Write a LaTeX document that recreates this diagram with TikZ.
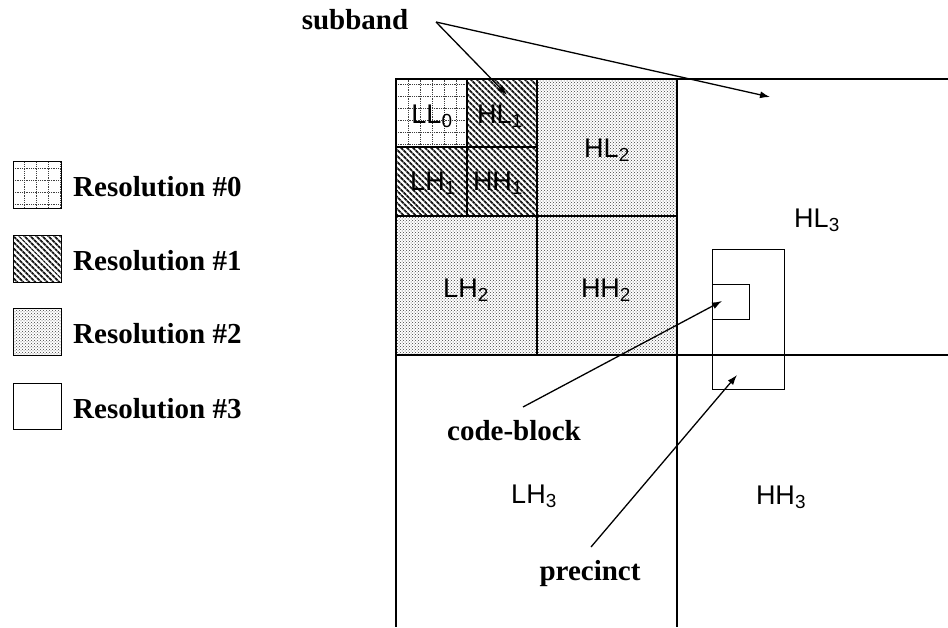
\documentclass[tikz,border=0pt]{standalone}
\usepackage{fontspec}
\setmainfont{Liberation Serif}
\newfontfamily\bandfont{Liberation Sans}
\usetikzlibrary{arrows.meta, patterns, patterns.meta}

\begin{document}
\begin{tikzpicture}[x=1pt, y=-1pt,
    bandline/.style={line width=1.2pt},
    gridline/.style={densely dotted, line width=0.8pt, black!75},
    res1fill/.style={pattern={Lines[angle=-45, distance=4pt, line width=2pt]}, pattern color=black!90},
    res2fill/.style={pattern=crosshatch dots, pattern color=black!75},
    band/.style={font=\bandfont\fontsize{27}{30}\selectfont, anchor=base, inner sep=0pt},
    tag/.style={font=\bfseries\fontsize{29}{33}\selectfont, anchor=base, inner sep=0pt},
    pointer/.style={line width=1.3pt, -{Latex[length=10pt, width=7pt]}}]
    \useasboundingbox (0,0) rectangle (948,627);

    % Resolution fills
    \fill[res2fill] (396,79) rectangle (677,355);
    \fill[white] (396,79) rectangle (537,216);
    \fill[res1fill] (396,79) rectangle (537,216);
    \fill[white] (396,79) rectangle (467,147);
    \begin{scope}
        \clip (396,79) rectangle (467,147);
        \draw[gridline] (396,79) grid[step=12pt] (467,147);
    \end{scope}

    % Subband borders
    \draw[bandline] (948,79) -- (396,79) -- (396,627);
    \draw[bandline] (677,79) -- (677,627);
    \draw[bandline] (396,355) -- (948,355);
    \draw[bandline] (537,79) -- (537,355);
    \draw[bandline] (396,216) -- (677,216);
    \draw[bandline] (467,79) -- (467,216);
    \draw[bandline] (396,147) -- (537,147);

    % Precinct and code-block
    \draw[line width=1pt] (712,249) rectangle (784,389);
    \draw[line width=1pt] (712,284) rectangle (749,319);

    % Subband labels
    \node[band] (ll0) at (432,123) {LL\textsubscript{0}};
    \node[band] (hl1) at (500,123) {HL\textsubscript{1}};
    \node[band] (lh1) at (433,190) {LH\textsubscript{1}};
    \node[band] (hh1) at (498,190) {HH\textsubscript{1}};
    \node[band] (hl2) at (607,157) {HL\textsubscript{2}};
    \node[band] (lh2) at (466,297) {LH\textsubscript{2}};
    \node[band] (hh2) at (606,297) {HH\textsubscript{2}};
    \node[band] (hl3) at (817,227) {HL\textsubscript{3}};
    \node[band] (lh3) at (534,503) {LH\textsubscript{3}};
    \node[band] (hh3) at (781,504) {HH\textsubscript{3}};

    % Legend
    \draw[line width=1pt, fill=white] (13,161) rectangle (61,208);
    \begin{scope}
        \clip (13,161) rectangle (61,208);
        \draw[gridline] (13,161) grid[step=12pt] (61,208);
    \end{scope}
    \draw[line width=1pt] (13,161) rectangle (61,208);
    \draw[line width=1pt, res1fill] (13,235) rectangle (61,282);
    \draw[line width=1pt, res2fill] (13,308) rectangle (61,355);
    \draw[line width=1pt] (13,383) rectangle (61,429);
    \node[tag, anchor=base west] (res0) at (73,196) {Resolution \#0};
    \node[tag, anchor=base west] (res1) at (73,270) {Resolution \#1};
    \node[tag, anchor=base west] (res2) at (73,343) {Resolution \#2};
    \node[tag, anchor=base west] (res3) at (73,418) {Resolution \#3};

    % Pointers
    \node[tag] (subband) at (355,29) {subband};
    \node[tag] (codeblock) at (514,440) {code-block};
    \node[tag] (precinct) at (590,580) {precinct};
    \coordinate (sb_tail) at (436,22);
    \draw[pointer] (sb_tail) -- (507,95);
    \draw[pointer] (sb_tail) -- (770,97);
    \draw[pointer] (523,407) -- (722,301);
    \draw[pointer] (591,547) -- (737,375);

\end{tikzpicture}
\end{document}
